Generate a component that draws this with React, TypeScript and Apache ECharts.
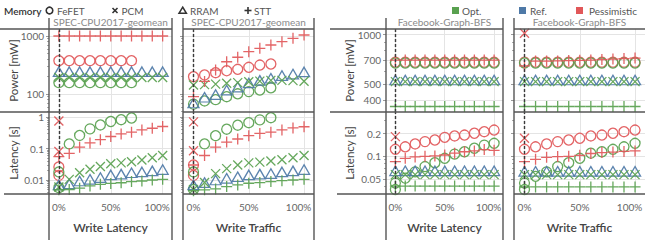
import React, { useEffect, useRef } from 'react';
import * as echarts from 'echarts';

// ---------------- data ----------------
const X_PCT = [0, 10, 20, 30, 40, 50, 60, 70, 80, 90, 100];
const X_TICKS = [0, 50, 100];
const PANEL_TITLES = ['SPEC-CPU2017-geomean', 'SPEC-CPU2017-geomean', 'Facebook-Graph-BFS', 'Facebook-Graph-BFS'];
const X_TITLES = ['Write Latency', 'Write Traffic', 'Write Latency', 'Write Traffic'];
const MEMORY_NAMES = ['FeFET', 'PCM', 'RRAM', 'STT'];
const SCENARIO_NAMES = ['Opt.', 'Ref.', 'Pessimistic'];

const LEFT_POWER_TICKS = [100, 1000];
const LEFT_POWER_MINOR = [50, 60, 70, 80, 90, 200, 300, 400, 500, 600, 700, 800, 900];
const LEFT_LATENCY_TICKS = [0.01, 0.1, 1];
const LEFT_LATENCY_MINOR = [0.004, 0.005, 0.006, 0.007, 0.008, 0.009, 0.02, 0.03, 0.04, 0.05, 0.06, 0.07, 0.08, 0.09, 0.2, 0.3, 0.4, 0.5, 0.6, 0.7, 0.8, 0.9];
const RIGHT_POWER_TICKS = [400, 500, 700, 1000];
const RIGHT_POWER_MINOR = [600, 800, 900];
const RIGHT_LATENCY_TICKS = [0.05, 0.1, 0.2];
const RIGHT_LATENCY_MINOR = [0.04, 0.06, 0.07, 0.08, 0.09, 0.3];

// Panel A: SPEC-CPU2017-geomean, Write Latency
const A_POW_OPT_FEFET = [157, 157, 157, 157, 157, 157, 157, 157, null, null, null];
const A_POW_OPT_PCM = [192, 192, 192, 192, 192, 192, 192, 192, 192, 192, 192];
const A_POW_REF_RRAM = [243, 243, 243, 243, 243, 243, 243, 243, 243, 243, 243];
const A_POW_PESS_FEFET = [375, 375, 375, 375, 375, 375, 375, 375, null, null, null];
const A_POW_PESS_STT = [1000, 1000, 1000, 1000, 1000, 1000, 1000, 1000, 1000, 1000, 1000];
const A_LAT_OPT_FEFET = [0.018, 0.14, 0.26, 0.42, 0.56, 0.72, 0.82, 0.93, null, null, null];
const A_LAT_OPT_PCM = [0.006, 0.0105, 0.017, 0.022, 0.027, 0.033, 0.035, 0.038, 0.043, 0.051, 0.06];
const A_LAT_OPT_STT = [0.0049, 0.005, 0.0055, 0.0065, 0.0073, 0.0078, 0.0082, 0.0089, 0.0093, 0.01, 0.0105];
const A_LAT_REF_RRAM = [0.007, 0.0075, 0.0093, 0.0105, 0.012, 0.0145, 0.0154, 0.017, 0.018, 0.0195, 0.0215];
const A_LAT_PESS_STT = [0.055, 0.07, 0.11, 0.15, 0.19, 0.24, 0.29, 0.33, 0.39, 0.44, 0.5];
const A_LAT_PESS_FEFET_AT0 = [0.026, 0.014];
const A_LAT_PESS_PCM_AT0 = [0.75, 0.08];
const A_LAT_OPT_FEFET_AT0 = [0.0057];

// Panel B: SPEC-CPU2017-geomean, Write Traffic
const B_POW_OPT_FEFET = [67, 76, 80, 90, 101, 110, 117, 128, null, null, null];
const B_POW_OPT_PCM = [143, 145, 148, 153, 157, 163, 167, 172, 172, 170, 166];
const B_POW_REF_RRAM = [70, 88, 98, 117, 132, 155, 172, 187, 208, 221, 240];
const B_POW_PESS_FEFET = [199, 213, 233, 252, 267, 289, 316, 329, null, null, null];
const B_POW_PESS_STT = [90, 165, 259, 360, 430, 536, 614, 700, 798, 912, 1040];
const B_LAT_OPT_FEFET = [0.018, 0.14, 0.255, 0.41, 0.55, 0.66, 0.81, 0.95, null, null, null];
const B_LAT_OPT_PCM = [0.005, 0.0083, 0.016, 0.023, 0.03, 0.035, 0.037, 0.04, 0.044, 0.051, 0.06];
const B_LAT_OPT_STT = [0.0046, 0.0049, 0.0052, 0.0062, 0.007, 0.0079, 0.0083, 0.0089, 0.0095, 0.01, 0.0105];
const B_LAT_REF_RRAM = [0.007, 0.0083, 0.01, 0.0113, 0.0127, 0.0145, 0.0154, 0.016, 0.018, 0.0195, 0.0215];
const B_LAT_PESS_STT = [0.03, 0.06, 0.11, 0.16, 0.2, 0.255, 0.3, 0.33, 0.39, 0.45, 0.49];
const B_LAT_PESS_FEFET_AT0 = [0.03, 0.014];
const B_LAT_PESS_PCM_AT0 = [0.7, 0.085];
const B_LAT_OPT_FEFET_AT0 = [0.005];

// Panel C: Facebook-Graph-BFS, Write Latency
const C_POW_OPT_FEFET = [672, 672, 672, 672, 672, 672, 672, 672, 672, 672, 672];
const C_POW_OPT_PCM = [518, 518, 518, 518, 518, 518, 518, 518, 518, 518, 518];
const C_POW_OPT_STT = [366, 366, 366, 366, 366, 366, 366, 366, 366, 366, 366];
const C_POW_REF_RRAM = [530, 530, 530, 530, 530, 530, 530, 530, 530, 530, 530];
const C_POW_PESS_FEFET = [680, 680, 680, 680, 680, 680, 680, 680, 680, 680, 680];
const C_POW_PESS_STT = [700, 700, 700, 700, 700, 700, 700, 700, 700, 700, 700];
const C_LAT_OPT_FEFET = [0.044, 0.051, 0.062, 0.073, 0.082, 0.094, 0.107, 0.115, 0.128, 0.141, 0.149];
const C_LAT_OPT_PCM = [0.057, 0.057, 0.057, 0.057, 0.057, 0.057, 0.057, 0.057, 0.057, 0.057, 0.057];
const C_LAT_OPT_STT = [0.04, 0.04, 0.04, 0.04, 0.04, 0.04, 0.04, 0.04, 0.04, 0.04, 0.04];
const C_LAT_REF_RRAM = [0.064, 0.064, 0.064, 0.064, 0.064, 0.064, 0.064, 0.064, 0.064, 0.064, 0.064];
const C_LAT_PESS_FEFET = [0.124, 0.134, 0.146, 0.157, 0.165, 0.179, 0.187, 0.192, 0.203, 0.213, 0.224];
const C_LAT_PESS_STT = [0.085, 0.094, 0.098, 0.1, 0.101, 0.104, 0.11, 0.115, 0.118, 0.123, 0.12];
const C_LAT_PESS_PCM_AT0 = [0.183];
const C_LAT_OPT_FEFET_AT0 = [0.036];

// Panel D: Facebook-Graph-BFS, Write Traffic
const D_POW_OPT_FEFET = [672, 672, 672, 672, 672, 672, 672, 672, 672, 672, 672];
const D_POW_OPT_PCM = [518, 518, 518, 518, 518, 518, 518, 518, 518, 518, 518];
const D_POW_OPT_STT = [366, 366, 366, 366, 366, 366, 366, 366, 366, 366, 366];
const D_POW_REF_RRAM = [530, 530, 530, 530, 530, 530, 530, 530, 530, 530, 530];
const D_POW_PESS_FEFET = [680, 680, 680, 680, 680, 680, 680, 680, 680, 680, 680];
const D_POW_PESS_STT = [645, 690, 690, 692, 695, 697, 700, 705, 710, 715, 720];
const D_POW_PESS_PCM_AT0 = [1017];
const D_LAT_OPT_FEFET = [0.044, 0.054, 0.062, 0.073, 0.082, 0.094, 0.11, 0.115, 0.124, 0.134, 0.149];
const D_LAT_OPT_PCM = [0.057, 0.057, 0.057, 0.057, 0.057, 0.057, 0.057, 0.057, 0.057, 0.057, 0.057];
const D_LAT_OPT_STT = [0.039, 0.039, 0.039, 0.039, 0.039, 0.039, 0.039, 0.039, 0.039, 0.039, 0.039];
const D_LAT_REF_RRAM = [0.063, 0.063, 0.063, 0.063, 0.063, 0.063, 0.063, 0.063, 0.063, 0.063, 0.063];
const D_LAT_PESS_FEFET = [0.124, 0.134, 0.146, 0.157, 0.165, 0.174, 0.187, 0.192, 0.203, 0.213, 0.224];
const D_LAT_PESS_STT = [0.085, 0.091, 0.097, 0.099, 0.1, 0.103, 0.109, 0.112, 0.114, 0.116, 0.118];
const D_LAT_PESS_PCM_AT0 = [0.174];
const D_LAT_OPT_FEFET_AT0 = [0.036];

type Entry = { p: number; r: number; mem: string; sc: string; vals: (number | null)[]; at0?: boolean };
const e = (p: number, r: number, mem: string, sc: string, vals: (number | null)[], at0 = false): Entry => ({ p, r, mem, sc, vals, at0 });

const ENTRIES: Entry[] = [
  e(0, 0, 'FeFET', 'Pessimistic', A_POW_PESS_FEFET), e(0, 0, 'FeFET', 'Opt.', A_POW_OPT_FEFET),
  e(0, 0, 'RRAM', 'Ref.', A_POW_REF_RRAM), e(0, 0, 'PCM', 'Opt.', A_POW_OPT_PCM), e(0, 0, 'STT', 'Pessimistic', A_POW_PESS_STT),
  e(0, 1, 'FeFET', 'Pessimistic', A_LAT_PESS_FEFET_AT0, true), e(0, 1, 'FeFET', 'Opt.', A_LAT_OPT_FEFET),
  e(0, 1, 'FeFET', 'Opt.', A_LAT_OPT_FEFET_AT0, true), e(0, 1, 'RRAM', 'Ref.', A_LAT_REF_RRAM),
  e(0, 1, 'PCM', 'Opt.', A_LAT_OPT_PCM), e(0, 1, 'STT', 'Pessimistic', A_LAT_PESS_STT),
  e(0, 1, 'STT', 'Opt.', A_LAT_OPT_STT), e(0, 1, 'PCM', 'Pessimistic', A_LAT_PESS_PCM_AT0, true),

  e(1, 0, 'FeFET', 'Pessimistic', B_POW_PESS_FEFET), e(1, 0, 'FeFET', 'Opt.', B_POW_OPT_FEFET),
  e(1, 0, 'RRAM', 'Ref.', B_POW_REF_RRAM), e(1, 0, 'PCM', 'Opt.', B_POW_OPT_PCM), e(1, 0, 'STT', 'Pessimistic', B_POW_PESS_STT),
  e(1, 1, 'FeFET', 'Pessimistic', B_LAT_PESS_FEFET_AT0, true), e(1, 1, 'FeFET', 'Opt.', B_LAT_OPT_FEFET),
  e(1, 1, 'FeFET', 'Opt.', B_LAT_OPT_FEFET_AT0, true), e(1, 1, 'RRAM', 'Ref.', B_LAT_REF_RRAM),
  e(1, 1, 'PCM', 'Opt.', B_LAT_OPT_PCM), e(1, 1, 'STT', 'Pessimistic', B_LAT_PESS_STT),
  e(1, 1, 'STT', 'Opt.', B_LAT_OPT_STT), e(1, 1, 'PCM', 'Pessimistic', B_LAT_PESS_PCM_AT0, true),

  e(2, 0, 'FeFET', 'Pessimistic', C_POW_PESS_FEFET), e(2, 0, 'FeFET', 'Opt.', C_POW_OPT_FEFET),
  e(2, 0, 'RRAM', 'Ref.', C_POW_REF_RRAM), e(2, 0, 'PCM', 'Opt.', C_POW_OPT_PCM),
  e(2, 0, 'STT', 'Pessimistic', C_POW_PESS_STT), e(2, 0, 'STT', 'Opt.', C_POW_OPT_STT),
  e(2, 1, 'FeFET', 'Pessimistic', C_LAT_PESS_FEFET), e(2, 1, 'FeFET', 'Opt.', C_LAT_OPT_FEFET),
  e(2, 1, 'FeFET', 'Opt.', C_LAT_OPT_FEFET_AT0, true), e(2, 1, 'RRAM', 'Ref.', C_LAT_REF_RRAM),
  e(2, 1, 'PCM', 'Opt.', C_LAT_OPT_PCM), e(2, 1, 'STT', 'Pessimistic', C_LAT_PESS_STT),
  e(2, 1, 'STT', 'Opt.', C_LAT_OPT_STT), e(2, 1, 'PCM', 'Pessimistic', C_LAT_PESS_PCM_AT0, true),

  e(3, 0, 'FeFET', 'Pessimistic', D_POW_PESS_FEFET), e(3, 0, 'FeFET', 'Opt.', D_POW_OPT_FEFET),
  e(3, 0, 'RRAM', 'Ref.', D_POW_REF_RRAM), e(3, 0, 'PCM', 'Opt.', D_POW_OPT_PCM),
  e(3, 0, 'STT', 'Pessimistic', D_POW_PESS_STT), e(3, 0, 'STT', 'Opt.', D_POW_OPT_STT),
  e(3, 0, 'PCM', 'Pessimistic', D_POW_PESS_PCM_AT0, true),
  e(3, 1, 'FeFET', 'Pessimistic', D_LAT_PESS_FEFET), e(3, 1, 'FeFET', 'Opt.', D_LAT_OPT_FEFET),
  e(3, 1, 'FeFET', 'Opt.', D_LAT_OPT_FEFET_AT0, true), e(3, 1, 'RRAM', 'Ref.', D_LAT_REF_RRAM),
  e(3, 1, 'PCM', 'Opt.', D_LAT_OPT_PCM), e(3, 1, 'STT', 'Pessimistic', D_LAT_PESS_STT),
  e(3, 1, 'STT', 'Opt.', D_LAT_OPT_STT), e(3, 1, 'PCM', 'Pessimistic', D_LAT_PESS_PCM_AT0, true),
];

// ---------------- layout & style ----------------
const FONT = 'Lato, "Noto Sans", sans-serif';
const COLOR_OF: Record<string, string> = { 'Opt.': '#59a14f', 'Ref.': '#4e79a7', 'Pessimistic': '#e15759' };
const SYMBOL_OF: Record<string, string> = {
  FeFET: 'circle', PCM: 'path://M0,0L10,10M10,0L0,10', RRAM: 'triangle', STT: 'path://M5,0L5,10M0,5L10,5',
};
const SIZE_OF: Record<string, any> = { FeFET: 10, PCM: 9, RRAM: [11, 9.5], STT: 11 };
const PANEL_X: [number, number][] = [[49, 172], [183, 314], [386, 503], [514, 645]];
const ROW_Y: [number, number][] = [[29, 112], [112, 194]];
const X_MIN = -9.5;
const X_MAX = 109;
const LEFT_POWER_RANGE = [49, 1320];
const LEFT_LATENCY_RANGE = [0.0036, 1.44];
const RIGHT_POWER_RANGE = [339, 1080];
const RIGHT_LATENCY_RANGE = [0.0314, 0.39];
const BORDER = '#555';
const GRIDLINE = '#e4e4e4';

function axisSpec(p: number, r: number) {
  const left = p < 2;
  if (r === 0) return left ? { range: LEFT_POWER_RANGE, ticks: LEFT_POWER_TICKS, minor: LEFT_POWER_MINOR } : { range: RIGHT_POWER_RANGE, ticks: RIGHT_POWER_TICKS, minor: RIGHT_POWER_MINOR };
  return left ? { range: LEFT_LATENCY_RANGE, ticks: LEFT_LATENCY_TICKS, minor: LEFT_LATENCY_MINOR } : { range: RIGHT_LATENCY_RANGE, ticks: RIGHT_LATENCY_TICKS, minor: RIGHT_LATENCY_MINOR };
}

function buildOption() {
  const grids: any[] = [];
  const xAxes: any[] = [];
  const yMajor: any[] = [];
  const yMinor: any[] = [];
  for (let p = 0; p < 4; p++) {
    for (let r = 0; r < 2; r++) {
      const g = p * 2 + r;
      const [x0, x1] = PANEL_X[p];
      const [y0, y1] = ROW_Y[r];
      grids.push({ left: x0, top: y0, width: x1 - x0, height: y1 - y0, containLabel: false, outerBoundsMode: 'none' });
      xAxes.push({
        type: 'value', gridIndex: g, min: X_MIN, max: X_MAX, position: 'bottom',
        axisLine: { show: false, onZero: false },
        axisTick: { show: false, customValues: X_TICKS },
        axisLabel: {
          show: r === 1, customValues: X_TICKS, margin: 8, fontSize: 10, color: '#666', fontFamily: FONT,
          formatter: (v: number) => (v === 100 ? '{r|100%}' : `${v}%`),
          rich: { r: { padding: [0, 11, 0, 0], fontSize: 10, color: '#666', fontFamily: FONT } },
        },
        splitLine: { show: true, lineStyle: { color: GRIDLINE, width: 1 } },
      });
      const spec = axisSpec(p, r);
      const lmin = Math.log10(spec.range[0]);
      const lmax = Math.log10(spec.range[1]);
      const tickLogs = spec.ticks.map((t) => Math.log10(t));
      yMajor.push({
        type: 'value', gridIndex: g, min: lmin, max: lmax, position: 'left',
        axisLine: { show: false, onZero: false },
        axisTick: { show: true, length: 3, customValues: tickLogs, lineStyle: { color: '#999' } },
        axisLabel: {
          show: p === 0 || p === 2, customValues: tickLogs, margin: 5, fontSize: 10, color: '#666', fontFamily: FONT,
          formatter: (v: number) => {
            const i = spec.ticks.findIndex((t) => Math.abs(Math.log10(t) - v) < 1e-6);
            return i >= 0 ? String(spec.ticks[i]) : '';
          },
        },
        splitLine: { show: true, lineStyle: { color: GRIDLINE, width: 1 } },
      });
      yMinor.push({
        type: 'value', gridIndex: g, min: lmin, max: lmax, position: 'left',
        axisLine: { show: false, onZero: false },
        axisTick: { show: true, length: 2, customValues: spec.minor.map((t) => Math.log10(t)), lineStyle: { color: '#aaa' } },
        axisLabel: { show: false },
        splitLine: { show: false },
      });
    }
  }

  const withLine = new Set<number>();
  const series = ENTRIES.map((en) => {
    const g = en.p * 2 + en.r;
    const data = en.at0
      ? en.vals.map((v) => [0, Math.log10(v as number)])
      : X_PCT.flatMap((x, k) => (en.vals[k] == null ? [] : [[x, Math.log10(en.vals[k] as number)]]));
    const s: any = {
      type: 'scatter', xAxisIndex: g, yAxisIndex: g, data, silent: true,
      symbol: SYMBOL_OF[en.mem], symbolSize: SIZE_OF[en.mem],
      itemStyle: { color: 'rgba(0,0,0,0)', borderColor: COLOR_OF[en.sc], borderWidth: 1.3, opacity: 0.92 },
    };
    if (!withLine.has(g)) {
      withLine.add(g);
      s.markLine = {
        silent: true, symbol: ['none', 'none'], label: { show: false },
        lineStyle: { color: '#3a3a3a', type: [3, 2], width: 1.4 },
        data: [{ xAxis: 0 }],
      };
    }
    return s;
  });

  const G: any[] = [];
  const line = (x1: number, y1: number, x2: number, y2: number, color = BORDER, w = 1.4) =>
    G.push({ type: 'line', z: 50, silent: true, shape: { x1, y1, x2, y2 }, style: { stroke: color, lineWidth: w } });
  const text = (x: number, y: number, s: string, o: any = {}) =>
    G.push({
      type: 'text', z: 50, silent: true, x, y, rotation: o.rot || 0,
      style: {
        text: s, fill: o.color || '#555', fontSize: o.size || 10, fontFamily: FONT, fontWeight: o.weight || 'normal',
        align: o.align || 'left', verticalAlign: 'middle',
      },
    });

  // borders
  PANEL_X.forEach(([x0, x1], p) => {
    line(x0, 18, x0, 240);
    if (x1 < 645) line(x1, 18, x1, 240);
    [29, 112, 194].forEach((y) => line(x0, y, x1, y));
    const cx = (x0 + x1) / 2;
    text(cx, 22, PANEL_TITLES[p], { color: '#8a8a8a', size: 10, align: 'center' });
    text(cx, 227, X_TITLES[p], { color: '#444', size: 12, weight: 600, align: 'center' });
  });
  line(0, 29, 49, 29); line(0, 112, 49, 112); line(4, 194, 49, 194);
  line(330, 29, 386, 29); line(330, 112, 386, 112); line(337, 194, 386, 194);

  // y titles
  text(13, 70.5, 'Power [mW]', { rot: Math.PI / 2, color: '#444', size: 11.5, align: 'center' });
  text(13, 153, 'Latency [s]', { rot: Math.PI / 2, color: '#444', size: 11.5, align: 'center' });
  text(349, 70.5, 'Power [mW]', { rot: Math.PI / 2, color: '#444', size: 11.5, align: 'center' });
  text(349, 153, 'Latency [s]', { rot: Math.PI / 2, color: '#444', size: 11.5, align: 'center' });

  // shape legend
  const LY = 10.5;
  const INK = '#333';
  text(4, LY, 'Memory', { color: '#333', size: 10, weight: 600 });
  G.push({ type: 'circle', z: 50, shape: { cx: 49.5, cy: LY, r: 3.3 }, style: { fill: 'none', stroke: INK, lineWidth: 1.6 } });
  text(57, LY, MEMORY_NAMES[0]);
  line(112.5, LY - 2.5, 117.5, LY + 2.5, INK, 1.6); line(117.5, LY - 2.5, 112.5, LY + 2.5, INK, 1.6);
  text(121.5, LY, MEMORY_NAMES[1]);
  G.push({ type: 'polygon', z: 50, shape: { points: [[182.7, LY - 3.3], [186.3, LY + 2.7], [179.1, LY + 2.7]] }, style: { fill: 'none', stroke: INK, lineWidth: 1.6 } });
  text(190, LY, MEMORY_NAMES[2]);
  line(248, LY - 3.5, 248, LY + 3.5, INK, 1.6); line(244.5, LY, 251.5, LY, INK, 1.6);
  text(254, LY, MEMORY_NAMES[3]);

  // color legend
  const sw = [[452, 462], [519, 530], [576, 589]];
  SCENARIO_NAMES.forEach((sc, i) => {
    G.push({ type: 'rect', z: 50, shape: { x: sw[i][0], y: LY - 3.5, width: 7, height: 7 }, style: { fill: COLOR_OF[sc] } });
    text(sw[i][1], LY, sc);
  });

  return {
    animation: false,
    backgroundColor: '#fff',
    textStyle: { fontFamily: FONT },
    grid: grids,
    xAxis: xAxes,
    yAxis: [...yMajor, ...yMinor],
    series,
    graphic: { elements: G },
  };
}

export default function App() {
  const ref = useRef<HTMLDivElement>(null);
  useEffect(() => {
    const chart = echarts.init(ref.current as HTMLDivElement, null, { renderer: 'svg' });
    chart.setOption(buildOption() as any);
    return () => chart.dispose();
  }, []);
  return <div ref={ref} style={{ position: 'fixed', left: 0, top: 0, width: 645, height: 240, background: '#fff' }} />;
}
